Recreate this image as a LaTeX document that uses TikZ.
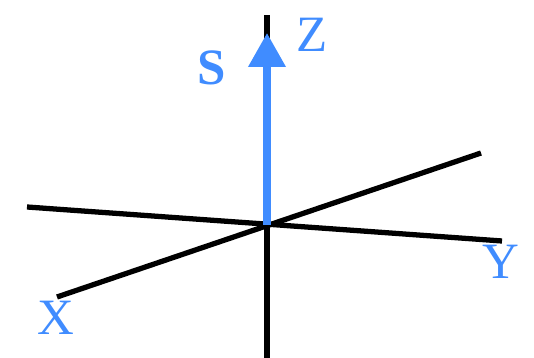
\documentclass[tikz,border=0pt]{standalone}
\usepackage{fontspec}
\setmainfont{Liberation Serif}
\usetikzlibrary{arrows.meta}
\definecolor{spinblue}{RGB}{64,140,255}
\begin{document}
\begin{tikzpicture}[every node/.style={font=\fontsize{29}{33}\selectfont, text=spinblue, inner sep=0pt},
  axis/.style={line width=3pt, black},
  spin/.style={line width=4pt, spinblue, -{Triangle[length=0.68cm, width=0.72cm]}}]
\useasboundingbox (0,0) rectangle (10.68,7.16);
\coordinate (O) at (5.34,2.66);
\coordinate (zt) at (5.34,6.86);
\coordinate (zb) at (5.34,0);
\coordinate (yl) at (0.54,3.02);
\coordinate (yr) at (10.04,2.34);
\coordinate (xl) at (1.14,1.22);
\coordinate (xr) at (9.62,4.10);
\coordinate (st) at (5.34,6.5);
% axes
\draw[axis] (zb) -- (zt);
\draw[axis] (yl) -- (yr);
\draw[axis] (xl) -- (xr);
% spin vector
\draw[spin] (O) -- (st);
\node (lz) at (6.24,6.46) {Z};
\node (ls) at (4.24,5.8) {\bfseries S};
\node (ly) at (10.02,1.92) {Y};
\node (lx) at (1.12,0.8) {X};
\end{tikzpicture}
\end{document}
